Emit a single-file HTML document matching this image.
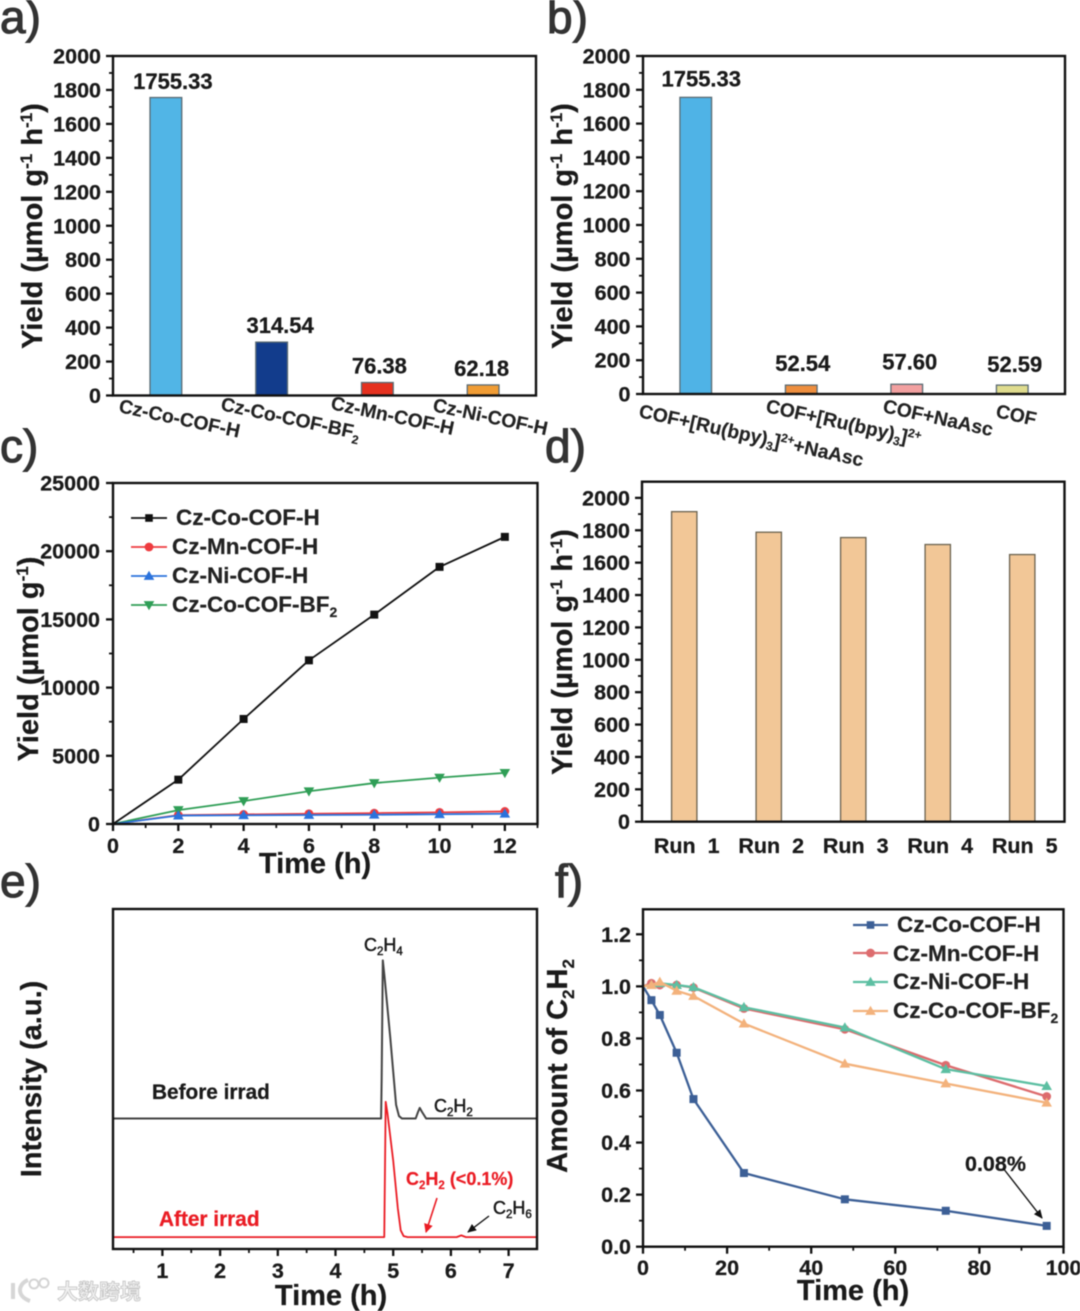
<!DOCTYPE html>
<html lang="en">
<head>
<meta charset="utf-8">
<title>COF photocatalysis yield charts</title>
<style>
html,body{margin:0;padding:0;background:#fff;}
svg{display:block;filter:blur(0.4px);}
text{font-family:"Liberation Sans","Noto Sans CJK SC",sans-serif;white-space:pre;}
.b{font-weight:700;fill:#1a1a1a;stroke:#1a1a1a;stroke-width:.25px;}
.letter{font-size:46px;fill:#333;stroke:#333;stroke-width:1.1px;}
.title{font-size:29px;font-weight:700;fill:#1a1a1a;stroke:#1a1a1a;stroke-width:.25px;}
.cat{font-size:19.3px;font-weight:700;fill:#222;stroke:#222;stroke-width:.15px;}
.leg{font-size:22.5px;font-weight:700;fill:#222;stroke:#222;stroke-width:.2px;}
.ann{font-size:18px;fill:#1a1a1a;stroke:#1a1a1a;stroke-width:.5px;}
</style>
</head>
<body>
<svg id="fig" xmlns="http://www.w3.org/2000/svg" width="1080" height="1311" viewBox="0 0 1080 1311">
  <defs>
    <marker id="arrow-k" markerWidth="9" markerHeight="8" refX="8" refY="4" orient="auto" markerUnits="userSpaceOnUse"><path d="M0,0 L9,4 L0,8 Z" fill="#111"/></marker>
    <marker id="arrow-r" markerWidth="9" markerHeight="9" refX="8" refY="4.5" orient="auto" markerUnits="userSpaceOnUse"><path d="M0,0 L9,4.5 L0,9 Z" fill="#ea1c24"/></marker>
  </defs>

  <text class="letter" x="0" y="33">a)</text>
  <text class="letter" x="547" y="33">b)</text>
  <text class="letter" x="0" y="462">c)</text>
  <text class="letter" x="545" y="462">d)</text>
  <text class="letter" x="0" y="897">e)</text>
  <text class="letter" x="555" y="897">f)</text>

  <g id="panel-a"></g>
  <g id="panel-b"></g>
  <g id="panel-c"></g>
  <g id="panel-d"></g>
  <g id="panel-e"></g>
  <g id="panel-f"></g>

  <text class="title" transform="translate(42,226) rotate(-90)" text-anchor="middle">Yield (µmol g<tspan font-size="17" dy="-10">-1</tspan><tspan dy="10"> h</tspan><tspan font-size="17" dy="-10">-1</tspan><tspan dy="10">)</tspan></text>
  <text class="title" transform="translate(572,226) rotate(-90)" text-anchor="middle">Yield (µmol g<tspan font-size="17" dy="-10">-1</tspan><tspan dy="10"> h</tspan><tspan font-size="17" dy="-10">-1</tspan><tspan dy="10">)</tspan></text>
  <text class="title" transform="translate(38,659) rotate(-90)" text-anchor="middle">Yield (µmol g<tspan font-size="17" dy="-10">-1</tspan><tspan dy="10">)</tspan></text>
  <text class="title" transform="translate(572,652) rotate(-90)" text-anchor="middle">Yield (µmol g<tspan font-size="17" dy="-10">-1</tspan><tspan dy="10"> h</tspan><tspan font-size="17" dy="-10">-1</tspan><tspan dy="10">)</tspan></text>
  <text class="title" transform="translate(41,1079) rotate(-90)" text-anchor="middle">Intensity (a.u.)</text>
  <text class="title" transform="translate(567,1066) rotate(-90)" text-anchor="middle">Amount of C<tspan font-size="17" dy="7">2</tspan><tspan dy="-7">H</tspan><tspan font-size="17" dy="7">2</tspan></text>

  <text class="title" x="315" y="873" text-anchor="middle">Time (h)</text>
  <text class="title" x="331" y="1305" text-anchor="middle">Time (h)</text>
  <text class="title" x="853" y="1300" text-anchor="middle">Time (h)</text>

  <g>
    <text class="cat" transform="translate(118,412) rotate(12)">Cz-Co-COF-H</text>
    <text class="cat" transform="translate(220,410) rotate(12)">Cz-Co-COF-BF<tspan font-size="12" dy="5">2</tspan></text>
    <text class="cat" transform="translate(330,409) rotate(12)">Cz-Mn-COF-H</text>
    <text class="cat" transform="translate(432,411) rotate(12)">Cz-Ni-COF-H</text>
  </g>
  <g>
    <text class="cat" transform="translate(638,417) rotate(12.5)">COF+[Ru(bpy)<tspan font-size="12" dy="4">3</tspan><tspan dy="-4">]</tspan><tspan font-size="12" dy="-7">2+</tspan><tspan dy="7">+NaAsc</tspan></text>
    <text class="cat" transform="translate(765,412) rotate(12.5)">COF+[Ru(bpy)<tspan font-size="12" dy="4">3</tspan><tspan dy="-4">]</tspan><tspan font-size="12" dy="-7">2+</tspan></text>
    <text class="cat" transform="translate(882,412) rotate(12.5)">COF+NaAsc</text>
    <text class="cat" transform="translate(995,417) rotate(12.5)">COF</text>
  </g>

  <g>
    <text class="leg" x="176" y="525">Cz-Co-COF-H</text>
    <text class="leg" x="172" y="554">Cz-Mn-COF-H</text>
    <text class="leg" x="172" y="583">Cz-Ni-COF-H</text>
    <text class="leg" x="172" y="612">Cz-Co-COF-BF<tspan font-size="14" dy="5">2</tspan></text>
  </g>
  <g>
    <text class="leg" x="897" y="932">Cz-Co-COF-H</text>
    <text class="leg" x="893" y="961">Cz-Mn-COF-H</text>
    <text class="leg" x="893" y="989">Cz-Ni-COF-H</text>
    <text class="leg" x="893" y="1018">Cz-Co-COF-BF<tspan font-size="14" dy="5">2</tspan></text>
  </g>

  <g>
    <text class="ann" x="364" y="951">C<tspan font-size="11.5" dy="4">2</tspan><tspan dy="-4">H</tspan><tspan font-size="11.5" dy="4">4</tspan></text>
    <text class="ann" x="434" y="1112">C<tspan font-size="11.5" dy="4">2</tspan><tspan dy="-4">H</tspan><tspan font-size="11.5" dy="4">2</tspan></text>
    <text class="b" x="152" y="1099" font-size="20.8">Before irrad</text>
    <text x="159" y="1226" font-size="20.8" font-weight="700" fill="#ea1c24" stroke="#ea1c24" stroke-width=".25">After irrad</text>
    <text x="406" y="1185" font-size="18" font-weight="700" fill="#ea1c24" stroke="#ea1c24" stroke-width=".2">C<tspan font-size="11.5" dy="4">2</tspan><tspan dy="-4">H</tspan><tspan font-size="11.5" dy="4">2</tspan><tspan dy="-4"> (&lt;0.1%)</tspan></text>
    <text class="ann" x="493" y="1214">C<tspan font-size="11.5" dy="4">2</tspan><tspan dy="-4">H</tspan><tspan font-size="11.5" dy="4">6</tspan></text>
    <line x1="437" y1="1198" x2="426" y2="1232" stroke="#ea1c24" stroke-width="1.6" marker-end="url(#arrow-r)"/>
    <line x1="489" y1="1216" x2="468" y2="1232" stroke="#111" stroke-width="1.4" marker-end="url(#arrow-k)"/>
  </g>

  <g>
    <text class="b" x="965" y="1171" font-size="21.5">0.08%</text>
    <line x1="1003" y1="1168" x2="1042" y2="1218" stroke="#111" stroke-width="1.4" marker-end="url(#arrow-k)"/>
  </g>

  <g>
    <path d="M13,1283 L13,1299 M28,1280 C18,1284 16,1296 30,1301" fill="none" stroke="#d6d6d6" stroke-width="4"/>
    <circle cx="34" cy="1284" r="4.5" fill="none" stroke="#d4d4d4" stroke-width="2"/>
    <circle cx="44" cy="1283" r="4.5" fill="none" stroke="#d4d4d4" stroke-width="2"/>
    <text x="57" y="1299" font-size="21" font-weight="700" fill="#f0f0f0" stroke="#c4c4c4" stroke-width=".8">大数跨境</text>
  </g>
</svg>

<script>
// Panel a
const categoriesA = ["Cz-Co-COF-H", "Cz-Co-COF-BF2", "Cz-Mn-COF-H", "Cz-Ni-COF-H"];
const yieldsA = [1755.33, 314.54, 76.38, 62.18];
const colorsA = ["#51b5e6", "#123c8c", "#e5311f", "#f09c34"];
// Panel b
const categoriesB = ["COF+[Ru(bpy)3]2++NaAsc", "COF+[Ru(bpy)3]2+", "COF+NaAsc", "COF"];
const yieldsB = [1755.33, 52.54, 57.60, 52.59];
const colorsB = ["#4fb3e6", "#ee8e3e", "#f2a0a0", "#dfdc8e"];
const yTicksBars = [0, 200, 400, 600, 800, 1000, 1200, 1400, 1600, 1800, 2000];
const yMinorBars = [100, 300, 500, 700, 900, 1100, 1300, 1500, 1700, 1900];
// Panel c
const timesC = [0, 2, 4, 6, 8, 10, 12];
const coC = [0, 3250, 7700, 12000, 15350, 18850, 21050];
const mnC = [0, 650, 700, 750, 800, 850, 920];
const niC = [0, 620, 640, 660, 680, 720, 750];
const bf2C = [0, 1020, 1680, 2400, 3000, 3400, 3750];
const xTicksC = [0, 2, 4, 6, 8, 10, 12];
const xMinorC = [1, 3, 5, 7, 9, 11, 13];
const yTicksC = [0, 5000, 10000, 15000, 20000, 25000];
const yMinorC = [2500, 7500, 12500, 17500, 22500];
// Panel d
const runsD = ["Run  1", "Run  2", "Run  3", "Run  4", "Run  5"];
const yieldsD = [1915, 1788, 1755, 1712, 1650];
// Panel e
const timeBefore = [0.144, 4.79, 4.80, 4.82, 4.85, 4.95, 5.05, 5.10, 5.15, 5.2, 5.39, 5.43, 5.46, 5.50, 5.57, 7.49];
const signalBefore = [38.4, 38.4, 50, 84.9, 80, 62, 42.4, 39.1, 38.4, 38.4, 38.4, 40.3, 41.5, 40.3, 38.4, 38.4];
const timeAfter = [0.144, 4.845, 4.87, 4.90, 5.0, 5.08, 5.13, 5.18, 5.25, 6.1, 6.18, 6.26, 7.49];
const signalAfter = [3.5, 3.5, 43.3, 40, 26, 12, 5.5, 3.8, 3.5, 3.5, 4, 3.5, 3.5];
const xTicksE = [1, 2, 3, 4, 5, 6, 7];
const xMinorE = [0.5, 1.5, 2.5, 3.5, 4.5, 5.5, 6.5];
// Panel f
const timesF = [0, 2, 4, 8, 12, 24, 48, 72, 96];
const coF = [1, 0.947, 0.89, 0.745, 0.567, 0.283, 0.182, 0.138, 0.08];
const mnF = [1, 1.012, 1.005, 1.005, 0.995, 0.915, 0.835, 0.697, 0.577];
const niF = [1, 1.005, 1.012, 1.005, 0.997, 0.92, 0.842, 0.682, 0.617];
const bf2F = [1, 1.005, 1.017, 0.983, 0.963, 0.857, 0.703, 0.627, 0.553];
const xTicksF = [0, 20, 40, 60, 80, 100];
const xMinorF = [10, 30, 50, 70, 90];
const yTicksF = [0, 0.2, 0.4, 0.6, 0.8, 1.0, 1.2];
const yMinorF = [0.1, 0.3, 0.5, 0.7, 0.9, 1.1];

const NS = "http://www.w3.org/2000/svg";
function mk(tag, attrs, parent) {
  const node = document.createElementNS(NS, tag);
  for (const k in attrs) node.setAttribute(k, attrs[k]);
  parent.appendChild(node);
  return node;
}
function linear(d0, d1, r0, r1) {
  return function (v) { return r0 + (v - d0) * (r1 - r0) / (d1 - d0); };
}
function slug(s) {
  return String(s).toLowerCase().replace(/[^a-z0-9.]+/g, "-").replace(/^-|-$/g, "");
}

function drawYAxis(parent, ticks, minors, y, axisX, labelEnd, fmt) {
  ticks.forEach(function (t) {
    const tick = mk("line", { x1: axisX - 7, x2: axisX, y1: y(t), y2: y(t), stroke: "#111", "stroke-width": 2.3 }, parent);
    
    
    const label = mk("text", { x: labelEnd, y: y(t) + 7.5, "text-anchor": "end", "font-size": 21.5, class: "b" }, parent);
    
    
    label.textContent = fmt ? fmt(t) : String(t);
  });
  minors.forEach(function (t) {
    const tick = mk("line", { x1: axisX - 4, x2: axisX, y1: y(t), y2: y(t), stroke: "#111", "stroke-width": 1.8 }, parent);
    
    
  });
}
function drawXAxis(parent, ticks, minors, x, axisY, labelY) {
  ticks.forEach(function (t) {
    const tick = mk("line", { x1: x(t), x2: x(t), y1: axisY, y2: axisY + 7, stroke: "#111", "stroke-width": 2.3 }, parent);
    
    
    const label = mk("text", { x: x(t), y: labelY, "text-anchor": "middle", "font-size": 21.5, class: "b" }, parent);
    
    
    label.textContent = String(t);
  });
  minors.forEach(function (t) {
    const tick = mk("line", { x1: x(t), x2: x(t), y1: axisY, y2: axisY + 4, stroke: "#111", "stroke-width": 1.8 }, parent);
    
    
  });
}
function drawFrame(parent, x0, x1, y0, y1) {
  const frame = mk("rect", { x: x0, y: y0, width: x1 - x0, height: y1 - y0, fill: "none", stroke: "#111", "stroke-width": 2.4 }, parent);
  
  
}
function drawBars(parent, cats, vals, colors, x0, x1, y, baseY, stroke) {
  const band = (x1 - x0) / cats.length;
  cats.forEach(function (c, i) {
    const cx = x0 + band * (i + 0.5);
    const w = band * 0.3;
    const bar = mk("rect", { x: cx - w / 2, y: y(vals[i]), width: w, height: baseY - y(vals[i]), fill: colors[i % colors.length], stroke: stroke, "stroke-width": 1.3 }, parent);
    
    
  });
}
function drawValueLabels(parent, cats, vals, x0, x1, y, dxs, dys) {
  const band = (x1 - x0) / cats.length;
  cats.forEach(function (c, i) {
    const label = mk("text", { x: x0 + band * (i + 0.5) + dxs[i], y: y(vals[i]) - dys[i], "text-anchor": "middle", "font-size": 22, class: "b" }, parent);
    
    
    label.textContent = vals[i].toFixed(2);
  });
}
function marker(parent, shape, cx, cy, s, color) {
  if (shape === "square") return mk("rect", { x: cx - s, y: cy - s, width: 2 * s, height: 2 * s, fill: color }, parent);
  if (shape === "circle") return mk("circle", { cx: cx, cy: cy, r: s, fill: color }, parent);
  if (shape === "up") return mk("polygon", { points: [cx, cy - s * 1.15, cx + s * 1.15, cy + s * 0.85, cx - s * 1.15, cy + s * 0.85].join(" "), fill: color }, parent);
  return mk("polygon", { points: [cx, cy + s * 1.15, cx + s * 1.15, cy - s * 0.85, cx - s * 1.15, cy - s * 0.85].join(" "), fill: color }, parent);
}
function drawSeries(parent, name, xs, ys, x, y, color, shape, size, lw) {
  const pts = xs.map(function (v, i) { return x(v) + "," + y(ys[i]); }).join(" ");
  const line = mk("polyline", { points: pts, fill: "none", stroke: color, "stroke-width": lw, "stroke-linejoin": "round" }, parent);
  
  
  xs.forEach(function (v, i) {
    if (i === 0) return;
    const m = marker(parent, shape, x(v), y(ys[i]), size, color);
    
    
  });
}
function drawLegendSwatch(parent, name, x0, x1, yPos, color, shape, size, lw) {
  const line = mk("line", { x1: x0, x2: x1, y1: yPos, y2: yPos, stroke: color, "stroke-width": lw }, parent);
  
  
  const m = marker(parent, shape, (x0 + x1) / 2, yPos, size, color);
  
  
}

// ---- Panel a
(function () {
  const g = document.getElementById("panel-a");
  const y = linear(0, 2000, 395.5, 56);
  drawBars(g, categoriesA, yieldsA, colorsA, 113, 536, y, 395.5, "#5a6a72");
  drawFrame(g, 113, 536, 56, 395.5);
  drawYAxis(g, yTicksBars, yMinorBars, y, 113, 101);
  drawValueLabels(g, categoriesA, yieldsA, 113, 536, y, [7, 8.5, 2, -1.5], [8.5, 9, 9, 9]);
})();
// ---- Panel b
(function () {
  const g = document.getElementById("panel-b");
  const y = linear(0, 2000, 394, 56);
  drawBars(g, categoriesB, yieldsB, colorsB, 643, 1065, y, 394, "#5a6a72");
  drawFrame(g, 643, 1065, 56, 394);
  drawYAxis(g, yTicksBars, yMinorBars, y, 643, 630.5);
  drawValueLabels(g, categoriesB, yieldsB, 643, 1065, y, [5.5, 1.5, 3, 2.5], [11, 14, 15, 13]);
})();
// ---- Panel c
(function () {
  const g = document.getElementById("panel-c");
  const x = linear(0, 13, 113, 537.5);
  const y = linear(0, 25000, 824, 483);
  drawSeries(g, "cz-mn-cof-h", timesC, mnC, x, y, "#ee3b3f", "circle", 4.4, 1.8);
  drawSeries(g, "cz-co-cof-bf2", timesC, bf2C, x, y, "#2f9e56", "down", 4.6, 1.8);
  drawSeries(g, "cz-ni-cof-h", timesC, niC, x, y, "#2a72dc", "up", 4.6, 1.8);
  drawSeries(g, "cz-co-cof-h", timesC, coC, x, y, "#111", "square", 4, 1.8);
  drawFrame(g, 113, 537.5, 483, 824);
  drawYAxis(g, yTicksC, yMinorC, y, 113, 100);
  drawXAxis(g, xTicksC, xMinorC, x, 824, 853);
  drawLegendSwatch(g, "cz-co-cof-h", 131, 167, 518, "#111", "square", 3.8, 1.8);
  drawLegendSwatch(g, "cz-mn-cof-h", 131, 167, 547, "#ee3b3f", "circle", 4.4, 1.8);
  drawLegendSwatch(g, "cz-ni-cof-h", 131, 167, 576, "#2a72dc", "up", 4.6, 1.8);
  drawLegendSwatch(g, "cz-co-cof-bf2", 131, 167, 605, "#2f9e56", "down", 4.6, 1.8);
})();
// ---- Panel d
(function () {
  const g = document.getElementById("panel-d");
  const y = linear(0, 2100, 821.7, 481.7);
  drawBars(g, runsD, yieldsD, ["#f2c797"], 642, 1064.5, y, 821.7, "#6b6350");
  drawFrame(g, 642, 1064.5, 481.7, 821.7);
  drawYAxis(g, yTicksBars, yMinorBars, y, 642, 630);
  const band = (1064.5 - 642) / runsD.length;
  runsD.forEach(function (r, i) {
    const label = mk("text", { x: 642 + band * (i + 0.5) + 2.5, y: 853, "text-anchor": "middle", "font-size": 21.5, class: "b" }, g);
    
    
    label.textContent = r;
  });
})();
// ---- Panel e
(function () {
  const g = document.getElementById("panel-e");
  const x = linear(1, 7, 162.4, 508.6);
  const y = linear(0, 100, 1249, 909);
  const before = mk("polyline", { points: timeBefore.map(function (t, i) { return x(t) + "," + y(signalBefore[i]); }).join(" "), fill: "none", stroke: "#444", "stroke-width": 2, "stroke-linejoin": "round" }, g);
  
  
  const after = mk("polyline", { points: timeAfter.map(function (t, i) { return x(t) + "," + y(signalAfter[i]); }).join(" "), fill: "none", stroke: "#ea1c24", "stroke-width": 1.8, "stroke-linejoin": "round" }, g);
  
  
  drawFrame(g, 113, 537, 909, 1249);
  drawXAxis(g, xTicksE, xMinorE, x, 1249, 1278);
})();
// ---- Panel f
(function () {
  const g = document.getElementById("panel-f");
  const x = linear(0, 100, 643, 1063.5);
  const y = linear(0, 1.2, 1246.7, 934.3);
  drawSeries(g, "cz-co-cof-h", timesF, coF, x, y, "#3c5f96", "square", 4, 2.3);
  drawSeries(g, "cz-mn-cof-h", timesF, mnF, x, y, "#dd6c6e", "circle", 4.4, 2.3);
  drawSeries(g, "cz-ni-cof-h", timesF, niF, x, y, "#5cbfa2", "up", 4.6, 2.3);
  drawSeries(g, "cz-co-cof-bf2", timesF, bf2F, x, y, "#f3b27c", "up", 4.6, 2.3);
  drawFrame(g, 643, 1063.5, 909.3, 1246.7);
  drawYAxis(g, yTicksF, yMinorF, y, 643, 631, function (t) { return t.toFixed(1); });
  drawXAxis(g, xTicksF, xMinorF, x, 1246.7, 1275);
  drawLegendSwatch(g, "cz-co-cof-h", 853, 888, 925, "#3c5f96", "square", 3.8, 2.3);
  drawLegendSwatch(g, "cz-mn-cof-h", 853, 888, 953, "#dd6c6e", "circle", 4.4, 2.3);
  drawLegendSwatch(g, "cz-ni-cof-h", 853, 888, 982, "#5cbfa2", "up", 4.6, 2.3);
  drawLegendSwatch(g, "cz-co-cof-bf2", 853, 888, 1011, "#f3b27c", "up", 4.6, 2.3);
})();
</script>
</body>
</html>
